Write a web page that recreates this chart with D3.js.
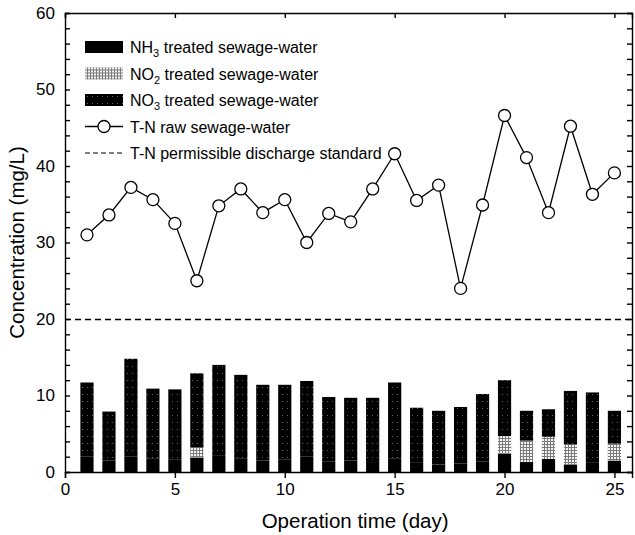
<!DOCTYPE html>
<html lang="en">
<head>
<meta charset="UTF-8">
<title>Nitrogen concentration</title>
<script src="https://cdn.jsdelivr.net/npm/d3@7"></script>
<style>
  body { margin: 0; background: #fff; font-family: "Liberation Sans", Arial, sans-serif; }
  .tick text { font-size: 17px; fill: #000; }
  .axis path, .axis line { stroke: #000; stroke-width: 1.4; }
</style>
</head>
<body>
<script>
// data
var days = [1,2,3,4,5,6,7,8,9,10,11,12,13,14,15,16,17,18,19,20,21,22,23,24,25];
var nh3 = [2.0,1.5,2.0,1.8,1.6,1.9,2.2,1.8,1.5,1.6,2.0,1.4,1.5,1.3,1.8,1.2,1.0,1.1,1.4,2.4,1.3,1.7,1.0,1.2,1.5];
var no2 = [0,0,0,0,0,1.3,0,0,0,0,0,0,0,0,0,0,0,0,0,2.3,2.8,2.9,2.6,0,2.2];
var no3 = [9.7,6.4,12.8,9.1,9.2,9.7,11.8,10.9,9.9,9.8,9.9,8.4,8.2,8.4,9.9,7.2,7.0,7.4,8.8,7.3,3.9,3.6,7.0,9.2,4.3];
var tnRaw = [31.0,33.6,37.2,35.6,32.5,25.0,34.8,37.0,33.9,35.6,30.0,33.8,32.7,37.0,41.6,35.5,37.5,24.0,34.9,46.6,41.1,33.9,45.2,36.3,39.1];
var tnStandard = 20;
var seriesNames = ["nh3", "no2", "no3"];
var legendLabels = [
  {sub: "3", pre: "NH", post: " treated sewage-water", key: "nh3"},
  {sub: "2", pre: "NO", post: " treated sewage-water", key: "no2"},
  {sub: "3", pre: "NO", post: " treated sewage-water", key: "no3"}
];
var xTicks = [0,5,10,15,20,25];
var yTicks = [0,10,20,30,40,50,60];

var width = 635, height = 535;
var margin = {top: 13, right: 3, bottom: 63, left: 65};
var w = width - margin.left - margin.right,
    h = height - margin.top - margin.bottom;

var svg = d3.select("body").append("svg")
  .attr("width", width)
  .attr("height", height);

var defs = svg.append("defs");
// light grid stipple for NO2
var p2 = defs.append("pattern").attr("id", "pNO2")
  .attr("patternUnits", "userSpaceOnUse").attr("width", 3).attr("height", 3);
p2.append("rect").attr("width", 3).attr("height", 3).attr("fill", "#7a7a7a");
p2.append("rect").attr("width", 2).attr("height", 2).attr("fill", "#f4f4f4");
// dark stipple for NO3
var p3 = defs.append("pattern").attr("id", "pNO3")
  .attr("patternUnits", "userSpaceOnUse").attr("width", 5).attr("height", 7);
p3.append("rect").attr("width", 5).attr("height", 7).attr("fill", "#000");
p3.append("rect").attr("x", 2).attr("y", 3).attr("width", 1).attr("height", 1).attr("fill", "#666");

var fills = {nh3: "#000", no2: "url(#pNO2)", no3: "url(#pNO3)"};

var g = svg.append("g")
  .attr("transform", "translate(" + margin.left + "," + margin.top + ")");

var x = d3.scaleLinear().domain([0, 25.8]).range([0, w]);
var y = d3.scaleLinear().domain([0, 60]).range([h, 0]);

// stacked bars
var rows = days.map(function(d, i) {
  return {day: d, nh3: nh3[i], no2: no2[i], no3: no3[i]};
});
var stack = d3.stack().keys(seriesNames)(rows);
var barW = x(0.6) - x(0);

g.append("g").selectAll("g")
  .data(stack)
  .enter().append("g")
  .attr("fill", function(s) { return fills[s.key]; })
  .selectAll("rect")
  .data(function(s) { return s; })
  .enter().append("rect")
  .attr("x", function(d) { return x(d.data.day) - barW / 2; })
  .attr("width", barW)
  .attr("y", function(d) { return y(d[1]); })
  .attr("height", function(d) { return y(d[0]) - y(d[1]); });

// permissible standard
g.append("line")
  .attr("x1", 0).attr("x2", w)
  .attr("y1", Math.round(y(tnStandard)) + 0.5).attr("y2", Math.round(y(tnStandard)) + 0.5)
  .attr("stroke", "#000").attr("stroke-width", 1.4)
  .attr("stroke-dasharray", "6,4");

// raw T-N line
var line = d3.line()
  .x(function(d, i) { return x(days[i]); })
  .y(function(d) { return y(d); });
g.append("path")
  .datum(tnRaw)
  .attr("fill", "none").attr("stroke", "#000").attr("stroke-width", 1.3)
  .attr("d", line);
g.selectAll(".pt")
  .data(tnRaw)
  .enter().append("circle")
  .attr("class", "pt")
  .attr("cx", function(d, i) { return x(days[i]); })
  .attr("cy", function(d) { return y(d); })
  .attr("r", 6)
  .attr("fill", "#fff").attr("stroke", "#000").attr("stroke-width", 1.3);

// axes
var minorY = d3.range(0, 61, 2);
g.append("g").attr("class", "axis")
  .call(d3.axisLeft(y).tickValues(minorY).tickSize(-5).tickFormat(""));
g.append("g").attr("class", "axis")
  .call(d3.axisLeft(y).tickValues(yTicks).tickSize(4).tickPadding(6).tickFormat(d3.format("d")))
  .call(function(a) { a.selectAll(".tick line").attr("x2", 0); a.select(".domain").remove(); });
g.append("g").attr("class", "axis")
  .attr("transform", "translate(" + w + ",0)")
  .call(d3.axisRight(y).tickValues(minorY).tickSize(-5).tickFormat(""));
g.append("g").attr("class", "axis")
  .attr("transform", "translate(0," + h + ")")
  .call(d3.axisBottom(x).tickValues(xTicks).tickSize(6).tickPadding(5).tickFormat(d3.format("d")));
g.append("g").attr("class", "axis")
  .call(d3.axisTop(x).tickValues(xTicks).tickSize(-5).tickFormat(""));
g.selectAll(".axis .domain").attr("stroke-width", 1.6);

// axis titles
svg.append("text")
  .attr("x", margin.left + x(13.2)).attr("y", 528)
  .attr("text-anchor", "middle")
  .style("font-size", "20.5px")
  .text("Operation time (day)");
svg.append("text")
  .attr("transform", "translate(24," + (margin.top + y(30)) + ") rotate(-90)")
  .attr("text-anchor", "middle")
  .style("font-size", "20.5px")
  .text("Concentration (mg/L)");

// legend
var leg = svg.append("g").attr("transform", "translate(85,47)");
var rowH = 26.5;
legendLabels.forEach(function(l, i) {
  var r = leg.append("g").attr("transform", "translate(0," + i * rowH + ")");
  r.append("rect").attr("x", 0).attr("y", -6).attr("width", 38).attr("height", 12)
    .attr("fill", fills[l.key]);
  var t = r.append("text").attr("x", 45).attr("y", 6).style("font-size", "16px");
  t.append("tspan").text(l.pre);
  t.append("tspan").attr("dy", 4).style("font-size", "11px").text(l.sub);
  t.append("tspan").attr("dy", -4).text(l.post);
});
var r4 = leg.append("g").attr("transform", "translate(0," + 3 * rowH + ")");
r4.append("line").attr("x1", 0).attr("x2", 38).attr("stroke", "#000").attr("stroke-width", 1.3);
r4.append("circle").attr("cx", 19).attr("r", 6).attr("fill", "#fff").attr("stroke", "#000").attr("stroke-width", 1.3);
r4.append("text").attr("x", 45).attr("y", 6).style("font-size", "16px").text("T-N raw sewage-water");
var r5 = leg.append("g").attr("transform", "translate(0," + 4 * rowH + ")");
r5.append("line").attr("x1", 0).attr("x2", 38).attr("stroke", "#000").attr("stroke-width", 1.2)
  .attr("stroke-dasharray", "5,3");
r5.append("text").attr("x", 45).attr("y", 6).style("font-size", "16px").text("T-N permissible discharge standard");
</script>
</body>
</html>
